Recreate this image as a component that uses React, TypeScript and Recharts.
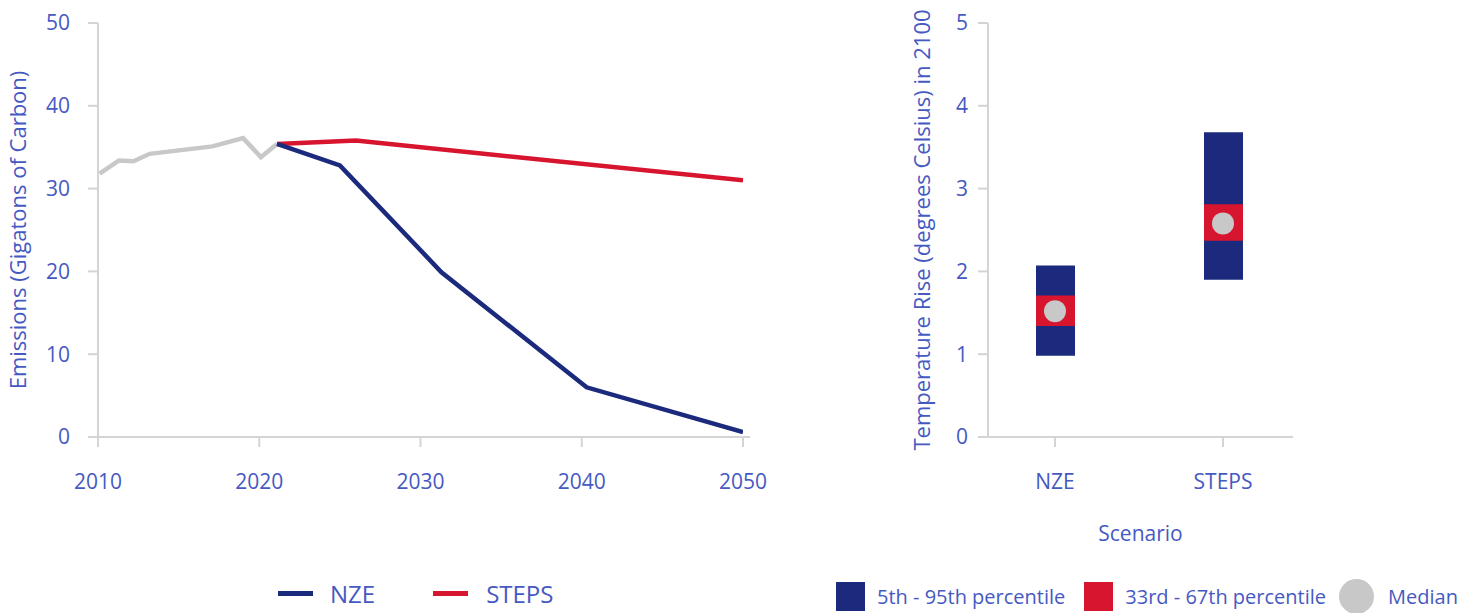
import React from 'react';
import {
  LineChart, Line, XAxis, YAxis, ComposedChart, Bar, Scatter,
} from 'recharts';

// emissions, gigatons of carbon
const historyYears = [2010.1, 2011.3, 2012.2, 2013.2, 2017.1, 2019.0, 2020.1, 2021.1];
const historyValues = [31.8, 33.4, 33.3, 34.2, 35.1, 36.1, 33.8, 35.4];
const nzeYears = [2021.1, 2025.0, 2031.3, 2040.3, 2050];
const nzeValues = [35.4, 32.8, 19.9, 6.0, 0.6];
const stepsYears = [2021.1, 2026.0, 2050];
const stepsValues = [35.4, 35.8, 31.0];
const yearTicks = [2010, 2020, 2030, 2040, 2050];
const emissionTicks = [0, 10, 20, 30, 40, 50];

// temperature rise in 2100
const scenarios = ['NZE', 'STEPS'];
const p5 = [0.98, 1.9];
const p95 = [2.07, 3.68];
const p33 = [1.34, 2.37];
const p67 = [1.71, 2.81];
const medians = [1.52, 2.58];
const tempTicks = [0, 1, 2, 3, 4, 5];

const NAVY = '#1b2a7c';
const RED = '#d7152f';
const GREY = '#c8c8c8';
const TEXT = '#4659c2';
const AXIS = '#d4d4d4';
const FONT = '"Open Sans", sans-serif';

const toPoints = (xs: number[], ys: number[]) => xs.map((x, i) => ({ year: x, value: ys[i] }));

const tempData = scenarios.map((s, i) => ({
  scenario: s,
  outer: [p5[i], p95[i]],
  inner: [p33[i], p67[i]],
  median: medians[i],
}));

const tick = { fill: TEXT, fontSize: 21, fontFamily: FONT };
const axisTitle = { textAnchor: 'middle', fill: TEXT, fontSize: 22, fontFamily: FONT };

const MedianDot = (props: any) => <circle cx={props.cx} cy={props.cy} r={11} fill={GREY} />;

export default function App() {
  return (
    <div style={{ position: 'absolute', left: 0, top: 0, width: 1474, height: 613, background: '#fff', fontFamily: FONT }}>
      <div style={{ position: 'absolute', left: 0, top: 0 }}>
        <LineChart width={780} height={520} margin={{ top: 23, right: 30, left: 8, bottom: 23 }}>
          <XAxis
            dataKey="year"
            type="number"
            domain={[2010, 2050]}
            ticks={yearTicks}
            allowDataOverflow
            padding={{ left: 0, right: 7 }}
            stroke={AXIS}
            strokeWidth={2}
            tickSize={10}
            tickMargin={27}
            tick={tick}
            height={60}
          />
          <YAxis
            type="number"
            domain={[0, 50]}
            ticks={emissionTicks}
            stroke={AXIS}
            strokeWidth={2}
            tickSize={10}
            tickMargin={18}
            tick={tick}
            width={90}
            label={{
              value: 'Emissions (Gigatons of Carbon)',
              angle: -90,
              position: 'insideLeft',
              offset: 10,
              style: axisTitle,
            }}
          />
          <Line data={toPoints(historyYears, historyValues)} dataKey="value" stroke={GREY} strokeWidth={4.5} dot={false} isAnimationActive={false} />
          <Line data={toPoints(stepsYears, stepsValues)} dataKey="value" stroke={RED} strokeWidth={4.5} dot={false} isAnimationActive={false} />
          <Line data={toPoints(nzeYears, nzeValues)} dataKey="value" stroke={NAVY} strokeWidth={4.5} dot={false} isAnimationActive={false} />
        </LineChart>
      </div>

      <div style={{ position: 'absolute', left: 880, top: 0 }}>
        <ComposedChart width={420} height={560} data={tempData} margin={{ top: 23, right: 7, left: 8, bottom: 13 }}>
          <XAxis
            xAxisId="outer"
            dataKey="scenario"
            scale="point"
            padding={{ left: 67, right: 70 }}
            stroke={AXIS}
            strokeWidth={2}
            tickSize={10}
            tickMargin={27}
            tick={tick}
            height={110}
            label={{ value: 'Scenario', position: 'insideBottom', offset: 6, style: { fill: TEXT, fontSize: 21, fontFamily: FONT } }}
          />
          <XAxis xAxisId="inner" dataKey="scenario" scale="point" padding={{ left: 67, right: 70 }} height={0} hide />
          <YAxis
            type="number"
            domain={[0, 5]}
            ticks={tempTicks}
            stroke={AXIS}
            strokeWidth={2}
            tickSize={10}
            tickMargin={10}
            tick={tick}
            width={100}
            label={{
              value: 'Temperature Rise (degrees Celsius) in 2100',
              angle: -90,
              position: 'insideLeft',
              offset: 34,
              style: axisTitle,
            }}
          />
          <Bar xAxisId="outer" dataKey="outer" fill={NAVY} barSize={39} isAnimationActive={false} />
          <Bar xAxisId="inner" dataKey="inner" fill={RED} barSize={39} isAnimationActive={false} />
          <Scatter xAxisId="outer" dataKey="median" shape={MedianDot} isAnimationActive={false} />
        </ComposedChart>
      </div>

      {/* scenario legend */}
      <div style={{ position: 'absolute', left: 278, top: 578, display: 'flex', alignItems: 'center', color: TEXT, fontSize: 24, height: 30 }}>
        <span style={{ width: 35, height: 5, background: NAVY, display: 'inline-block' }} />
        <span style={{ marginLeft: 17 }}>NZE</span>
        <span style={{ width: 35, height: 5, background: RED, display: 'inline-block', marginLeft: 58 }} />
        <span style={{ marginLeft: 18 }}>STEPS</span>
      </div>

      {/* percentile legend */}
      <div style={{ position: 'absolute', left: 836, top: 580, display: 'flex', alignItems: 'center', color: TEXT, fontSize: 20, height: 32 }}>
        <span style={{ width: 29, height: 29, background: NAVY, display: 'inline-block' }} />
        <span style={{ marginLeft: 12 }}>5th - 95th percentile</span>
        <span style={{ width: 29, height: 29, background: RED, display: 'inline-block', marginLeft: 19 }} />
        <span style={{ marginLeft: 12 }}>33rd - 67th percentile</span>
        <span style={{ width: 35, height: 35, borderRadius: '50%', background: GREY, display: 'inline-block', marginLeft: 13 }} />
        <span style={{ marginLeft: 14 }}>Median</span>
      </div>
    </div>
  );
}
